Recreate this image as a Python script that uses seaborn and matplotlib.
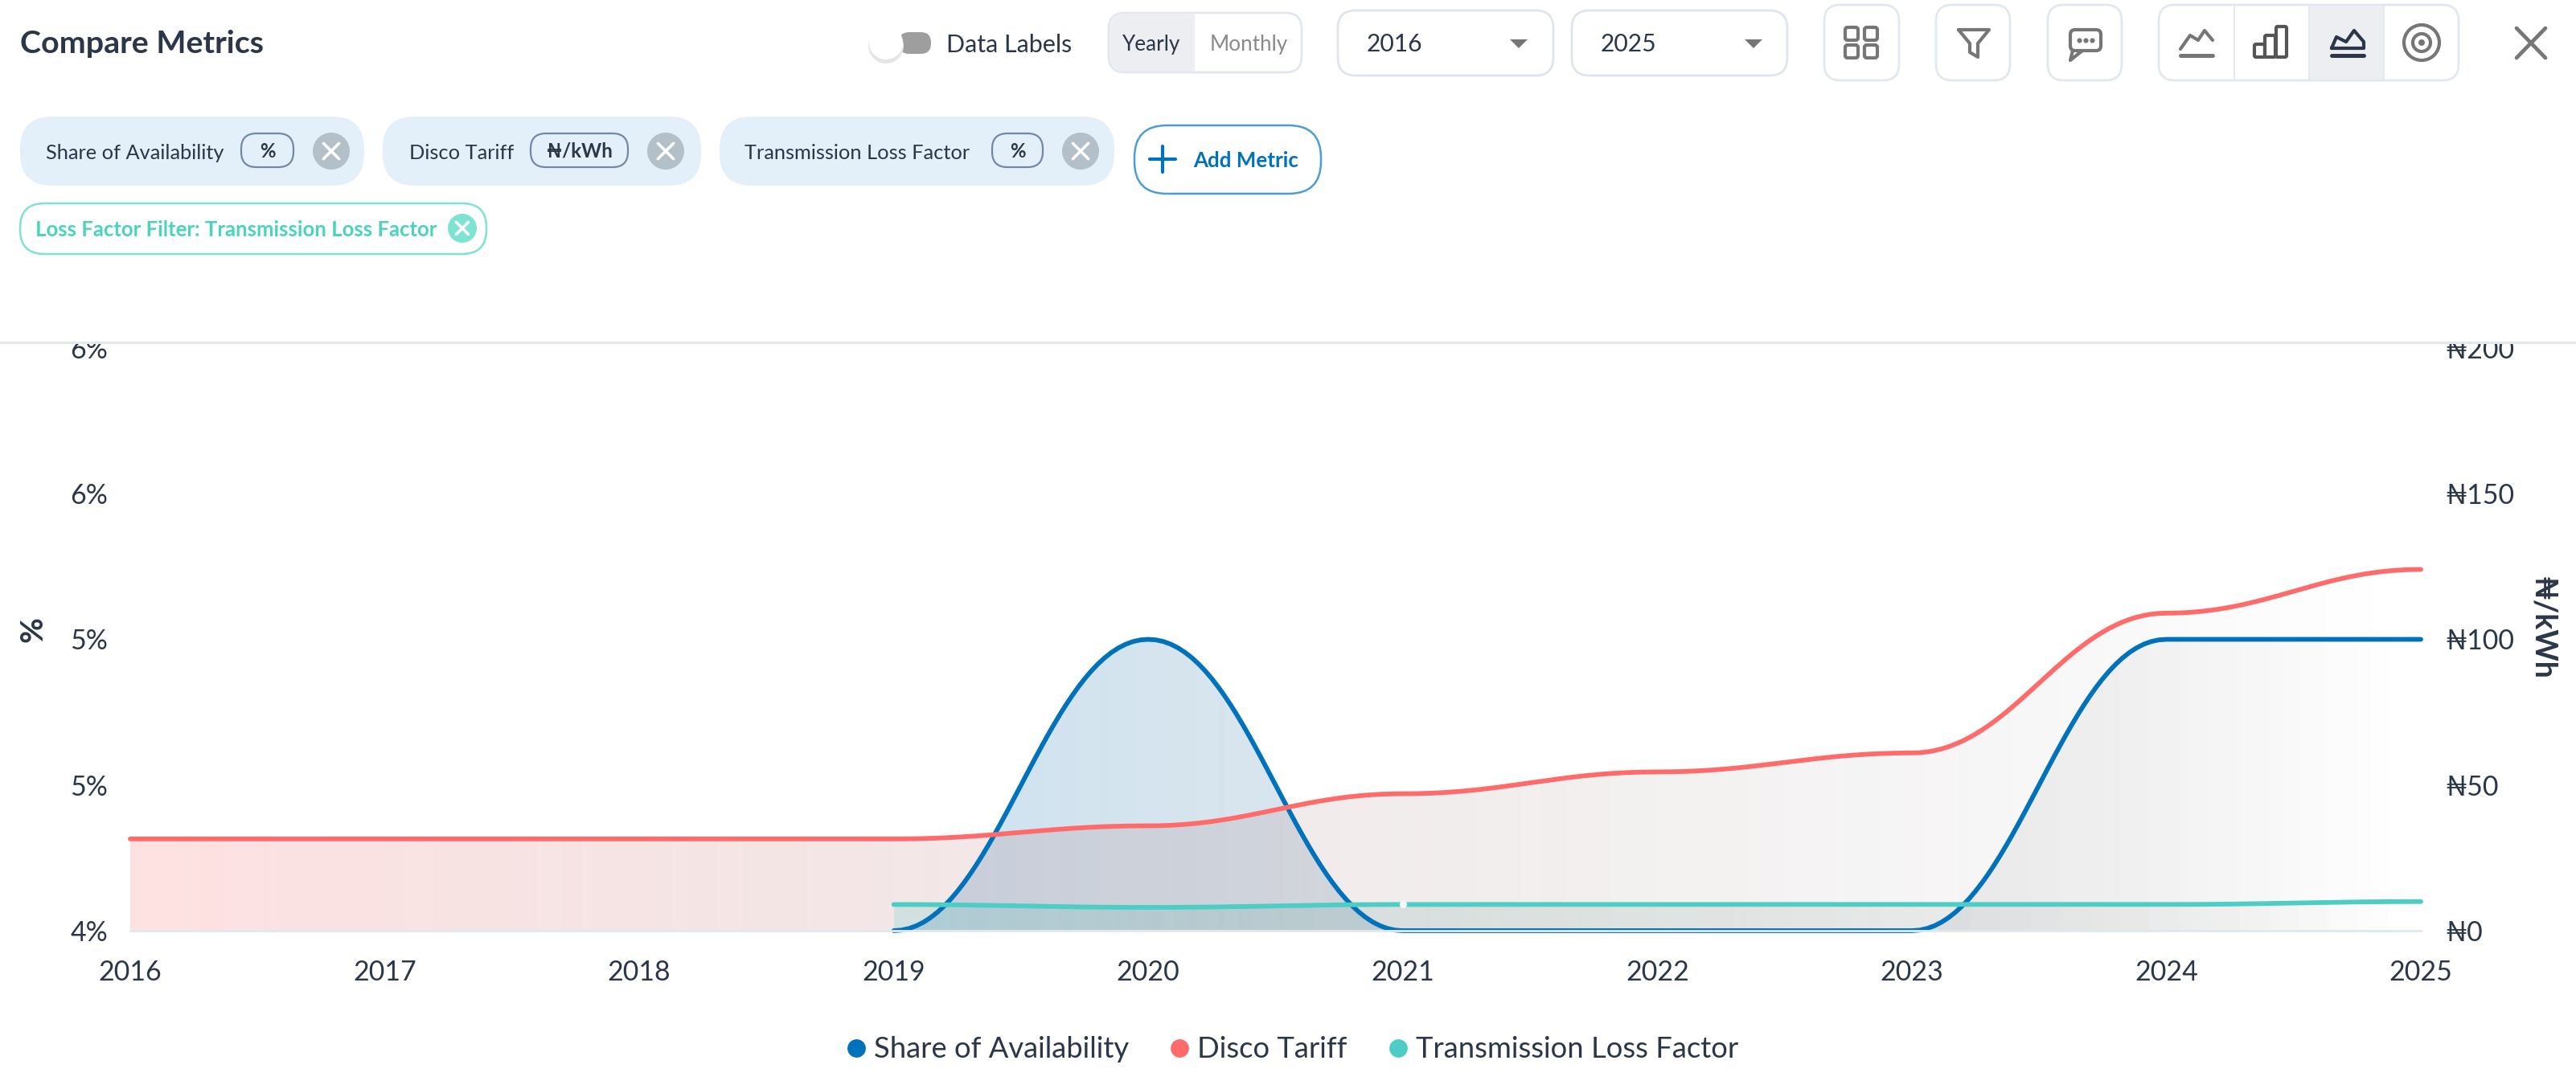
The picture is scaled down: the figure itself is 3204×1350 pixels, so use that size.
import numpy as np
import pandas as pd
import matplotlib
matplotlib.use('Agg')
import matplotlib.pyplot as plt
import seaborn as sns
from matplotlib.lines import Line2D
from matplotlib.patches import Circle, FancyBboxPatch, Polygon, Rectangle

# Chart data
years = [2016, 2017, 2018, 2019, 2020, 2021, 2022, 2023, 2024, 2025]
share_years = [2019, 2020, 2021, 2022, 2023, 2024, 2025]
share_values = [4, 5, 4, 4, 4, 5, 5]
tariff_values = [31.5, 31.5, 31.5, 31.5, 36, 47, 54.5, 61, 109, 124]
loss_years = [2019, 2020, 2021, 2022, 2023, 2024, 2025]
loss_values = [4.09, 4.08, 4.09, 4.09, 4.09, 4.09, 4.10]

left_ticks = [4, 4.5, 5, 5.5, 6]
left_labels = ['4%', '5%', '5%', '6%', '6%']
right_ticks = [0, 50, 100, 150, 200]
right_labels = ['₦0', '₦50', '₦100', '₦150', '₦200']
series_names = ['Share of Availability', 'Disco Tariff', 'Transmission Loss Factor']
series_colors = ['#0072BC', '#FF6B6B', '#4ECDC4']
metric_units = ['%', '₦/kWh', '%']

W, H = 3204, 1350
TEXT = '#2B3648'

sns.set_theme(style='white')
plt.rcParams['font.family'] = ['Lato', 'Noto Sans', 'DejaVu Sans']

fig = plt.figure(figsize=(W / 200, H / 200), dpi=200, facecolor='white')
X0, X1, Y0, Y1 = 162, 3011, 433, 1158
ax = fig.add_axes([X0 / W, 1 - Y1 / H, (X1 - X0) / W, (Y1 - Y0) / H])
ax2 = ax.twinx()
ax2.patch.set_visible(False)


def smooth(xs, ys, tension=0.4, steps=40):
    # same curve the web chart draws: flat tangent at each yearly point
    s = np.linspace(0, 1, steps)
    cx, cy = [], []
    for a, b, c, d in zip(xs[:-1], xs[1:], ys[:-1], ys[1:]):
        p1 = a + (b - a) * tension
        p2 = b - (b - a) * tension
        cx.extend((1 - s)**3 * a + 3 * (1 - s)**2 * s * p1 + 3 * (1 - s) * s**2 * p2 + s**3 * b)
        cy.extend((1 - s)**3 * c + 3 * (1 - s)**2 * s * c + 3 * (1 - s) * s**2 * d + s**3 * d)
    return np.array(cx), np.array(cy)


def gradient_area(xs, ys, base, color, transform, zorder, alpha=0.2):
    # color fades to transparent black left to right
    cx, cy = smooth(xs, ys)
    t = np.linspace(0, 1, 256)
    rgb = np.array(matplotlib.colors.to_rgb(color))
    img = np.zeros((1, 256, 4))
    img[0, :, :3] = rgb[None, :] * (1 - t)[:, None]
    img[0, :, 3] = alpha * (1 - t)
    im = ax.imshow(img, extent=[xs[0], xs[-1], 4, 6], aspect='auto', zorder=zorder,
                   interpolation='bilinear')
    poly = Polygon(np.vstack([np.c_[cx, cy], [xs[-1], base], [xs[0], base]]),
                   closed=True, transform=transform)
    im.set_clip_path(poly)


def draw_line(axis, xs, ys, color, zorder):
    cx, cy = smooth(xs, ys)
    df = pd.DataFrame({'x': cx, 'y': cy})
    sns.lineplot(data=df, x='x', y='y', ax=axis, sort=False, estimator=None, color=color,
                 linewidth=2.1, solid_capstyle='round', legend=False, zorder=zorder,
                 clip_on=False)


ax.set_xlim(2016, 2025)
ax.set_ylim(4, 6)
ax2.set_ylim(0, 200)

gradient_area(share_years, share_values, 4, series_colors[0], ax.transData, 1)
gradient_area(years, tariff_values, 0, series_colors[1], ax2.transData, 2)
gradient_area(loss_years, loss_values, 4, series_colors[2], ax.transData, 3)
draw_line(ax, share_years, share_values, series_colors[0], 4)
draw_line(ax, loss_years, loss_values, series_colors[2], 5)
draw_line(ax2, years, tariff_values, series_colors[1], 4)
ax.scatter([loss_years[2]], [loss_values[2]], s=11, color='#F4F8F8', zorder=6, linewidths=0,
           clip_on=False)

ax.set_xlim(2016, 2025)
ax.set_ylim(4, 6)
ax2.set_ylim(0, 200)
ax.set_xticks(years)
ax.set_xticklabels([str(y) for y in years])
ax.set_yticks(left_ticks)
ax.set_yticklabels(left_labels)
ax2.set_yticks(right_ticks)
ax2.set_yticklabels(right_labels)
ax.tick_params(axis='x', length=5.4, width=1.0, color='#E2E8F0', labelsize=12.2,
               labelcolor=TEXT, pad=7.5)
ax.tick_params(axis='y', length=0, labelsize=12.2, labelcolor=TEXT, pad=10)
ax2.tick_params(axis='y', length=0, labelsize=12.2, labelcolor=TEXT, pad=11)

for a in (ax, ax2):
    for side in ('top', 'left', 'right'):
        a.spines[side].set_visible(False)
    a.spines['bottom'].set_color('#E2E8F0')
    a.spines['bottom'].set_linewidth(1.0)

ax.set_xlabel('')
ax.set_ylabel('%', fontsize=14, fontweight='bold', color=TEXT)
ax.yaxis.set_label_coords((58 - X0) / (X1 - X0), (Y1 - 783) / (Y1 - Y0))
ax2.set_xlabel('')
ax2.set_ylabel('₦/kWh', fontsize=13.5, fontweight='bold', color=TEXT, rotation=270)
ax2.yaxis.set_label_coords((3180 - X0) / (X1 - X0), (Y1 - 781) / (Y1 - Y0))

handles = [Line2D([], [], linestyle='none', marker='o', markersize=7.2, color=c) for c in series_colors]
fig.legend(handles, series_names, loc='center', bbox_to_anchor=(0.5022, 1 - 1306 / H), ncol=3,
           frameon=False, fontsize=13.1, labelcolor=TEXT, handlelength=0.5, handletextpad=0.35,
           columnspacing=1.5)

# Dashboard controls around the chart, in pixel coordinates
ui = fig.add_axes([0, 0, 1, 1], zorder=10)
ui.set_xlim(0, W)
ui.set_ylim(H, 0)
ui.axis('off')
ui.add_patch(Rectangle((0, 0), W, 426, color='white', zorder=0))
ui.plot([0, W], [426, 426], color='#E5E9EE', lw=1.1, zorder=1)


def box(x0, y0, x1, y1, r, fc='white', ec='none', lw=1.0, z=2):
    ui.add_patch(FancyBboxPatch((x0, y0), x1 - x0, y1 - y0, boxstyle=f'round,pad=0,rounding_size={r}',
                                fc=fc, ec=ec, lw=lw, zorder=z))


def label(x, y, s, size, color=TEXT, ha='left', weight='normal'):
    ui.text(x, y, s, fontsize=size, color=color, ha=ha, va='center', fontweight=weight, zorder=6)


def close_dot(x, y, r, color):
    ui.add_patch(Circle((x, y), r, fc=color, ec='none', zorder=4))
    d = r * 0.42
    ui.plot([x - d, x + d], [y - d, y + d], color='white', lw=1.3, zorder=5)
    ui.plot([x - d, x + d], [y + d, y - d], color='white', lw=1.3, zorder=5)


label(25, 55, 'Compare Metrics', 14.2, weight='bold')

# toggle
box(1118, 40, 1158, 67, 13, fc='#9E9E9E')
ui.add_patch(Circle((1102, 57), 22, fc='#E6E6E6', ec='none', zorder=3))
ui.add_patch(Circle((1102, 53), 21, fc='white', ec='none', zorder=3))
label(1177, 56, 'Data Labels', 11)

# yearly / monthly
box(1379, 16, 1619, 90, 20, ec='#E2E8F0')
box(1380, 17, 1486, 89, 18, fc='#ECEEF1')
ui.add_patch(Rectangle((1440, 17), 46, 72, fc='#ECEEF1', ec='none', zorder=2))
label(1432, 55, 'Yearly', 9.4, ha='center')
label(1553, 55, 'Monthly', 9.4, color='#8A8A8A', ha='center')

# year selectors
for x0, x1, txt, tri in [(1664, 1932, '2016', 1889), (1955, 2223, '2025', 2181)]:
    box(x0, 13, x1, 94, 22, ec='#DFE4EE')
    label(x0 + 36, 55, txt, 10.8)
    ui.add_patch(Polygon([(tri - 11, 49), (tri + 11, 49), (tri, 60)], fc='#767676', ec='none', zorder=4))

# icon buttons
for x0, x1 in [(2269, 2362), (2408, 2500), (2547, 2639)]:
    box(x0, 6, x1, 100, 20, ec='#E2E8F0')
box(2685, 6, 3058, 100, 20, ec='#E2E8F0')
ui.add_patch(Rectangle((2872, 7), 93, 92, fc='#ECEEF1', ec='none', zorder=2))
for x in (2779, 2872, 2965):
    ui.plot([x, x], [7, 99], color='#E2E8F0', lw=0.6, zorder=3)

ICON = '#767676'
STROKE = 1.5
for cx, cy in [(2303, 42), (2327, 42), (2303, 64), (2327, 64)]:
    box(cx - 8, cy - 8, cx + 8, cy + 8, 3, fc='none', ec=ICON, lw=STROKE, z=4)
ui.plot([2436, 2474, 2460, 2460, 2450, 2450, 2436], [37, 37, 54, 71, 65, 54, 37], color=ICON, lw=STROKE, zorder=4)
box(2575, 37, 2613, 63, 6, fc='none', ec=ICON, lw=STROKE, z=4)
ui.plot([2578, 2575, 2590], [63, 75, 63], color=ICON, lw=STROKE, zorder=4)
ui.plot([2586, 2594, 2602], [50, 50, 50], linestyle='none', marker='o', ms=1.2, color=ICON, zorder=5)
ui.plot([2712, 2724, 2734, 2742, 2752], [61, 44, 50, 38, 50], color=ICON, lw=STROKE, zorder=4)
ui.plot([2712, 2752], [69, 69], color=ICON, lw=1.8, zorder=4)
for x0, y0 in [(2804, 55), (2817, 44), (2831, 33)]:
    box(x0, y0, x0 + 13, 71, 2, fc='none', ec='#555555', lw=STROKE, z=4)
ui.plot([2900, 2906, 2918, 2928, 2940, 2940, 2900], [60, 46, 52, 38, 52, 60, 60], color=TEXT, lw=STROKE, zorder=4)
ui.plot([2900, 2940], [69, 69], color=TEXT, lw=1.8, zorder=4)
ui.add_patch(Circle((3012, 53), 22, fc='none', ec=ICON, lw=STROKE, zorder=4))
ui.add_patch(Circle((3012, 53), 11, fc='none', ec=ICON, lw=STROKE, zorder=4))
ui.add_patch(Circle((3012, 53), 4, fc=ICON, ec='none', zorder=4))
ui.plot([3130, 3166], [35, 72], color=ICON, lw=1.7, zorder=4)
ui.plot([3130, 3166], [72, 35], color=ICON, lw=1.7, zorder=4)

# metric pills
pills = [(25, 453, 57, 300, 365, 412), (476, 872, 509, 660, 781, 828), (895, 1386, 926, 1234, 1297, 1344)]
for (x0, x1, tx, ux0, ux1, dot), name, unit in zip(pills, series_names, metric_units):
    box(x0, 145, x1, 231, 40, fc='#E3F0F9')
    label(tx, 190, name, 9.15)
    box(ux0, 166, ux1, 208, 19, fc='none', ec='#7388A8', lw=0.8, z=3)
    label((ux0 + ux1) / 2, 188, unit, 8.6, ha='center', weight='bold')
    close_dot(dot, 188, 23, '#B3BFC9')

box(1411, 156, 1643, 241, 40, ec='#4B9ED4', lw=0.9)
ui.plot([1430, 1462], [198, 198], color='#0072BC', lw=1.5, zorder=4)
ui.plot([1446, 1446], [182, 214], color='#0072BC', lw=1.5, zorder=4)
label(1484, 200, 'Add Metric', 9.3, color='#0072BC', weight='bold')

box(25, 253, 605, 316, 30, ec='#7DE3D2', lw=0.9)
label(44, 286, 'Loss Factor Filter: Transmission Loss Factor', 9.25, color='#4CD3BD', weight='bold')
close_dot(575, 284, 18, '#7DE3D2')

fig.savefig('out.png', dpi=200)
